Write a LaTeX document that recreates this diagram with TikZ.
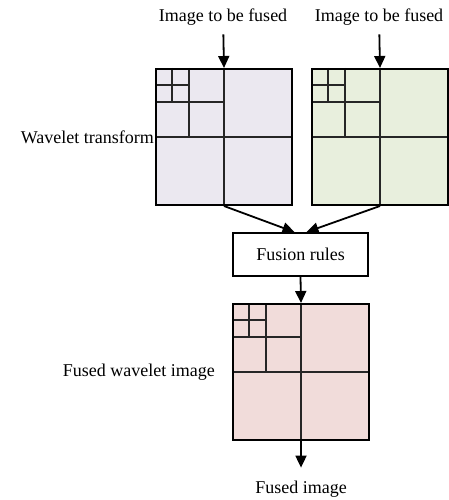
\documentclass[tikz,border=0pt]{standalone}
\usepackage{fontspec}
\setmainfont{Liberation Serif}
\usetikzlibrary{arrows.meta,calc}
\definecolor{lav}{HTML}{EBE8F0}
\definecolor{grn}{HTML}{E8EFDD}
\definecolor{pnk}{HTML}{F1DCDA}
\begin{document}
\begin{tikzpicture}[x=1pt,y=-1pt,
  lbl/.style={font=\fontsize{18}{21}\selectfont, inner sep=0pt},
  sq/.style={draw, line width=2pt, minimum size=136pt, inner sep=0pt},
  grid/.style={line width=2pt, color=black!85},
  arr/.style={line width=1.8pt, -{Triangle[length=12pt,width=11pt]}},
  box/.style={draw, line width=1.8pt, minimum width=135pt, minimum height=43pt, inner sep=0pt, font=\fontsize{18}{21}\selectfont}]
\useasboundingbox (0,0) rectangle (449,500);
% squares
\node[sq, fill=lav] (L) at (224,137) {};
\node[sq, fill=grn] (R) at (380,137) {};
\node[sq, fill=pnk] (F) at (301,372) {};
% inner grids
\foreach \s in {L,R,F}{
  \draw[grid] (\s.north) -- (\s.south);
  \draw[grid] (\s.west) -- (\s.east);
  \draw[grid] ($(\s.north west)+(34,0)$) -- ($(\s.north west)+(34,68)$);
  \draw[grid] ($(\s.north west)+(0,34)$) -- ($(\s.north west)+(68,34)$);
  \draw[grid] ($(\s.north west)+(17,0)$) -- ($(\s.north west)+(17,34)$);
  \draw[grid] ($(\s.north west)+(0,17)$) -- ($(\s.north west)+(34,17)$);
  \node[sq] at (\s) {};
}
% labels
\node[lbl] (t1) at (223,17) {Image to be fused};
\node[lbl] (t2) at (379,17) {Image to be fused};
\node[lbl, anchor=east] (wt) at (154,137) {Wavelet transform};
\node[lbl, anchor=east] (fw) at (215,372) {Fused wavelet image};
\node[box] (fr) at (300.5,254.5) {Fusion rules};
\node[lbl] (fi) at (301,489) {Fused image};
% arrows
\draw[arr, shorten <=9pt] (t1) -- (L.north);
\draw[arr, shorten <=9pt] (t2) -- (R.north);
\draw[arr] (L.south) -- ($(fr.north)+(-6,0)$);
\draw[arr] (R.south) -- ($(fr.north)+(6,0)$);
\draw[arr] (fr.south) -- (F.north);
\draw[arr, shorten >=13pt] (F.south) -- (fi);
\end{tikzpicture}
\end{document}
